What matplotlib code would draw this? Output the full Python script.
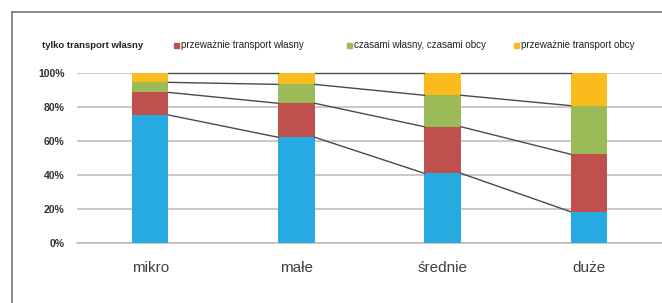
import matplotlib.pyplot as plt
from matplotlib.lines import Line2D
from matplotlib.patches import Rectangle
import numpy as np

# Dane: udział (%) sposobu transportu wg wielkości firmy
kategorie = ['mikro', 'małe', 'średnie', 'duże']
serie = ['tylko transport własny', 'przeważnie transport własny',
         'czasami własny, czasami obcy', 'przeważnie transport obcy']
tylko_wlasny = [75.3, 62.2, 41.0, 18.4]
przewaznie_wlasny = [13.3, 20.0, 27.4, 33.8]
czasami = [5.9, 11.1, 18.5, 28.6]
przewaznie_obcy = [5.5, 6.7, 13.1, 19.2]
yticks = [0, 20, 40, 60, 80, 100]

kolory = ['#27AAE1', '#C0504D', '#9BBB59', '#F9BC1C']
FONT = ['Liberation Sans', 'DejaVu Sans']

fig = plt.figure(figsize=(6.62, 3.03), dpi=100)
fig.patch.set_facecolor('white')
W, H = 662, 303
ax = fig.add_axes([77 / W, (H - 243) / H, (662 - 77) / W + 0.02, 170 / H])
ax.set_facecolor('white')

x = np.arange(len(kategorie))
szer = 0.25
dane = [tylko_wlasny, przewaznie_wlasny, czasami, przewaznie_obcy]
dol = np.zeros(len(kategorie))
for wart, kol in zip(dane, kolory):
    ax.bar(x, wart, szer, bottom=dol, color=kol, zorder=3)
    dol = dol + np.array(wart)

# linie serii (jak w Excelu) między kolejnymi słupkami
skum = np.cumsum(np.array(dane), axis=0)
for poziom in skum:
    for i in range(len(kategorie) - 1):
        ax.plot([x[i] + szer / 2, x[i + 1] - szer / 2], [poziom[i], poziom[i + 1]],
                color='#4A4A4A', lw=1.0, zorder=4, clip_on=False)

ax.set_xlim(-0.5, 3.5 + 0.02 * 4 * W / (662 - 77))
ax.set_ylim(0, 100)
ax.set_yticks(yticks)
ax.set_yticklabels([f'{t}%' for t in yticks], family=FONT, fontsize=7.5,
                   fontweight='bold', color='#333333')
ax.yaxis.grid(True, color='#C4B8B2', lw=1.1, zorder=0)
ax.axhline(0, color='#C4B8B2', lw=1.1, zorder=1, clip_on=False)
ax.set_xticks(x)
ax.set_xticklabels(kategorie, family=FONT, fontsize=11, color='#404040')
ax.tick_params(axis='x', length=0, pad=13)
ax.tick_params(axis='y', length=0, pad=9)
for s in ax.spines.values():
    s.set_visible(False)

# legenda na górze
leg_y = 1 - 45 / H
fig.text(42 / W, leg_y, serie[0], family=FONT, fontsize=6.8, fontweight='bold',
         color='#222222', va='center')
for nr, (mx, tx) in enumerate([(174, 181), (347, 354), (514, 521)], start=1):
    fig.add_artist(Rectangle((mx / W, leg_y - 2.5 / H), 5 / W, 5 / H,
                             transform=fig.transFigure, color=kolory[nr]))
    fig.text(tx / W, leg_y, serie[nr], family=FONT, fontsize=7,
             color='#222222', va='center')

# ramka
fig.add_artist(Line2D([12 / W, 12 / W], [0, 1 - 12 / H], transform=fig.transFigure,
                      color='#777777', lw=1.2))
fig.add_artist(Line2D([12 / W, 1], [1 - 12 / H, 1 - 12 / H], transform=fig.transFigure,
                      color='#777777', lw=1.2))

fig.savefig('out.png', dpi=100)
